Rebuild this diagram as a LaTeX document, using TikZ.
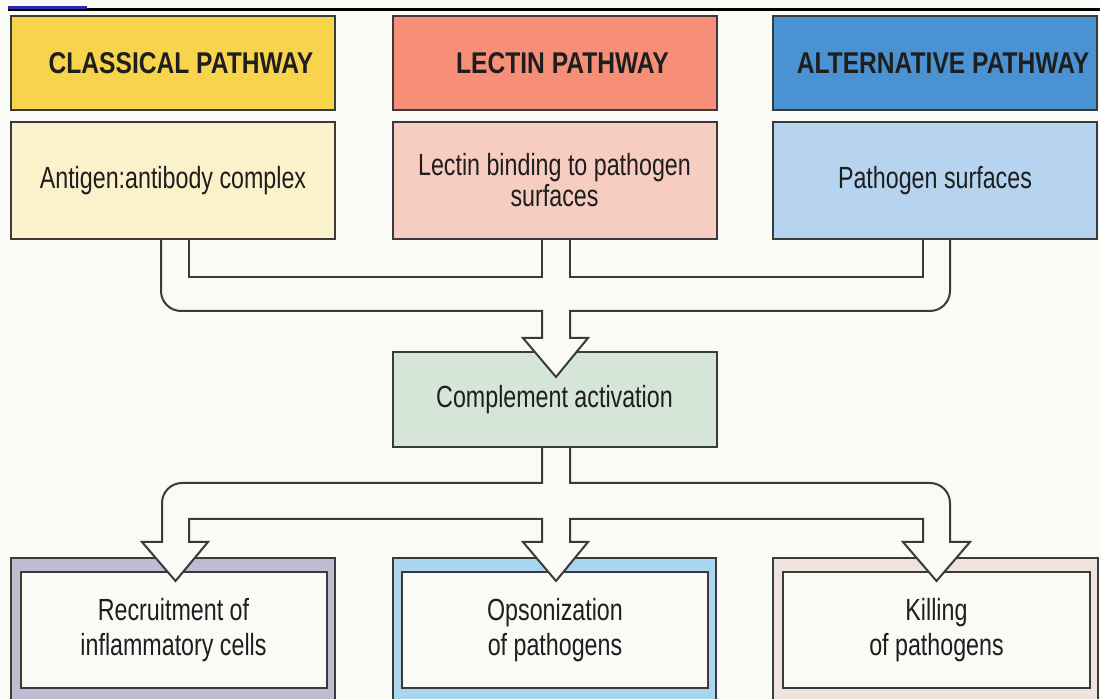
\documentclass[tikz,border=0pt]{standalone}
\usepackage{fontspec}
\setmainfont{Liberation Sans}
\newfontfamily\hdfont[FakeStretch=0.82]{Liberation Sans Bold}
\newfontfamily\txfont[FakeStretch=0.76]{Liberation Sans}
\definecolor{bg}{HTML}{FAFAF7}
\definecolor{lc}{HTML}{3A3A3A}
\definecolor{txt}{HTML}{1E1E1E}
\definecolor{yelH}{HTML}{F8D44C}
\definecolor{yelB}{HTML}{FBF1CA}
\definecolor{redH}{HTML}{F68E78}
\definecolor{redB}{HTML}{F7CDC1}
\definecolor{bluH}{HTML}{4B92D2}
\definecolor{bluB}{HTML}{B6D3EF}
\definecolor{grnB}{HTML}{D5E6D8}
\definecolor{bandL}{HTML}{BDBCD0}
\definecolor{bandM}{HTML}{A9D5EE}
\definecolor{bandR}{HTML}{EFE3DD}
\definecolor{topblue}{HTML}{2A2AA8}
\begin{document}
\begin{tikzpicture}[x=0.5pt,y=-0.5pt,
  boxbase/.style={draw=lc, line width=1pt, outer sep=0pt, inner sep=0pt, text=txt},
  hdr/.style={boxbase, minimum width=162pt, minimum height=47pt, font=\hdfont\fontsize{15}{17}\selectfont},
  bodybox/.style={boxbase, minimum width=162pt, minimum height=58.5pt, align=center, font=\txfont\fontsize{15.3}{15.5}\selectfont},
  outerbox/.style={boxbase, minimum height=72.5pt},
  innerbox/.style={boxbase, fill=bg, minimum height=58pt, align=center, font=\txfont\fontsize{15.3}{17.5}\selectfont},
  conn/.style={draw=lc, line width=1pt, line join=miter},
  headfill/.style={fill=bg, draw=none}
]
\useasboundingbox (0,0) rectangle (1100,699);
\clip (0,0) rectangle (1100,699);
\fill[bg] (0,0) rectangle (1100,699);
% top rule
\draw[line width=1.5pt, black] (8,10) -- (1100,10);
\draw[line width=1.5pt, topblue] (8,8) -- (87,8);

% header boxes
\node[hdr, fill=yelH] (ch) at (173,63) {\hspace*{8pt}CLASSICAL PATHWAY};
\node[hdr, fill=redH] (lh) at (554.5,63) {\hspace*{8pt}LECTIN PATHWAY};
\node[hdr, fill=bluH] (ah) at (935,63) {\hspace*{8pt}ALTERNATIVE PATHWAY};

% trigger boxes
\node[bodybox, fill=yelB] (cb) at (173,180.5) {Antigen:antibody complex};
\node[bodybox, fill=redB] (lb) at (554.5,180.5) {Lectin binding to pathogen\\surfaces};
\node[bodybox, fill=bluB] (ab) at (935,180.5) {Pathogen surfaces};

% complement activation
\node[bodybox, fill=grnB, minimum height=47.5pt] (ca) at (554.5,399.5) {Complement activation};

% outcome boxes
\node[outerbox, fill=bandL, minimum width=162pt] (ro) at (173,630.5) {};
\node[innerbox, minimum width=153pt] (ri) at (173.5,630) {Recruitment of\\inflammatory cells};
\node[outerbox, fill=bandM, minimum width=161.5pt] (oo) at (554.5,630.5) {};
\node[innerbox, minimum width=153pt] (oi) at (555,630) {Opsonization\\of pathogens};
\node[outerbox, fill=bandR, minimum width=162.5pt] (ko) at (935.5,630.5) {};
\node[innerbox, minimum width=153.5pt] (ki) at (936.5,630) {Killing\\of pathogens};

% ---- upper connector (three pathways -> complement activation)
\fill[headfill] (523,338) -- (556,377) -- (588,338) -- cycle;
\draw[conn] (cb.south -| 161,0) -- (161,291) .. controls (161,302) and (170,311) .. (181,311)
  -- (542,311) -- (542,338) -- (523,338) -- (556,377) -- (588,338) -- (570,338) -- (570,311)
  -- (930,311) .. controls (941,311) and (950,302) .. (950,291) -- (ab.south -| 950,0);
\draw[conn] (cb.south -| 189,0) -- (189,277) -- (542,277) -- (lb.south -| 542,0);
\draw[conn] (lb.south -| 570,0) -- (570,277) -- (923,277) -- (ab.south -| 923,0);

% ---- lower connector (complement activation -> three outcomes)
\fill[headfill] (142,542) -- (175.5,581) -- (208,542) -- cycle;
\fill[headfill] (523,542) -- (556,581) -- (588,542) -- cycle;
\fill[headfill] (903,542) -- (936.5,581) -- (970,542) -- cycle;
\draw[conn] (ca.south -| 542,0) -- (542,483) -- (182,483) .. controls (171,483) and (162,492) .. (162,503)
  -- (162,542) -- (142,542) -- (175.5,581) -- (208,542) -- (189,542) -- (189,519)
  -- (542,519) -- (542,542) -- (523,542) -- (556,581) -- (588,542) -- (570,542) -- (570,519)
  -- (923,519) -- (923,542) -- (903,542) -- (936.5,581) -- (970,542) -- (950,542)
  -- (950,503) .. controls (950,492) and (941,483) .. (930,483) -- (570,483) -- (ca.south -| 570,0);
\end{tikzpicture}
\end{document}
